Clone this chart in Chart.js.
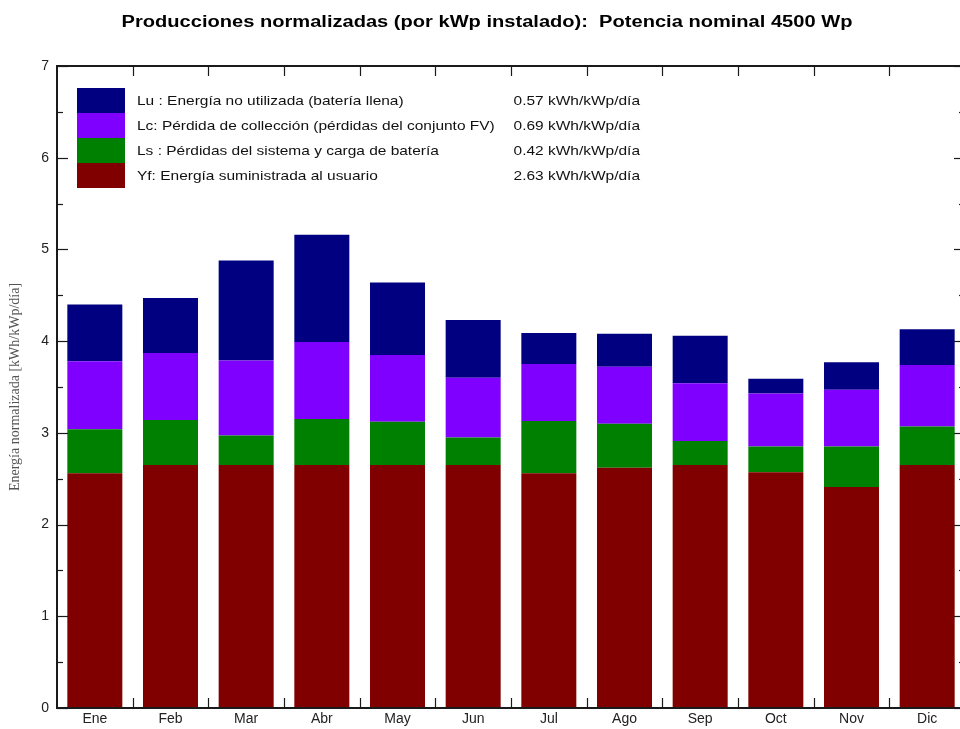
<!DOCTYPE html>
<html><head><meta charset="utf-8">
<script src="https://cdn.jsdelivr.net/npm/chart.js@4.4.0/dist/chart.umd.min.js"></script>
<style>
html,body{margin:0;padding:0;background:#fff;overflow:hidden;}
#wrap{width:960px;height:729px;overflow:hidden;position:relative;}
canvas{position:absolute;left:0;top:0;}
</style>
</head><body><div id="wrap"><canvas id="c" width="972" height="729"></canvas></div>
<script>
const months = ['Ene','Feb','Mar','Abr','May','Jun','Jul','Ago','Sep','Oct','Nov','Dic'];
const yf = [2.56, 2.65, 2.65, 2.65, 2.65, 2.65, 2.56, 2.62, 2.65, 2.57, 2.41, 2.65];
const ls = [0.48, 0.49, 0.32, 0.50, 0.47, 0.30, 0.57, 0.48, 0.26, 0.28, 0.44, 0.42];
const lc = [0.74, 0.73, 0.82, 0.84, 0.73, 0.65, 0.62, 0.62, 0.63, 0.58, 0.62, 0.67];
const lu = [0.62, 0.60, 1.09, 1.17, 0.79, 0.63, 0.34, 0.36, 0.52, 0.16, 0.30, 0.39];
const seriesLabels = [
  'Yf: Energía suministrada al usuario',
  'Ls : Pérdidas del sistema y carga de batería',
  'Lc: Pérdida de collección (pérdidas del conjunto FV)',
  'Lu : Energía no utilizada (batería llena)'
];
const seriesTotals = ['2.63 kWh/kWp/día','0.42 kWh/kWp/día','0.69 kWh/kWp/día','0.57 kWh/kWp/día'];
const colors = ['#800000','#008000','#8000ff','#000080'];
const yTicks = [0,1,2,3,4,5,6,7];
const minorStep = 0.5;
const titleText = 'Producciones normalizadas (por kWp instalado):  Potencia nominal 4500 Wp';
const yTitleText = 'Energía normalizada [kWh/kWp/día]';

const SANS = "'Liberation Sans', Arial, sans-serif";

function stretchedText(ctx, text, x, y, sx, align) {
  ctx.save();
  ctx.translate(x, y);
  ctx.scale(sx, 1);
  ctx.textAlign = align;
  ctx.fillText(text, 0, 0);
  ctx.restore();
}

const framePlugin = {
  id: 'frame',
  afterDatasetsDraw(chart) {
    const {ctx, chartArea: a, scales: {x, y}} = chart;
    ctx.save();
    ctx.strokeStyle = '#1a1a1a';
    const line = (x1,y1,x2,y2) => { ctx.beginPath(); ctx.moveTo(x1,y1); ctx.lineTo(x2,y2); ctx.stroke(); };
    ctx.lineWidth = 1.2;
    const yMax = yTicks[yTicks.length-1];
    for (let v = 0; v <= yMax + 1e-9; v += minorStep) {
      const py = Math.round(y.getPixelForValue(v)) + 0.5;
      const major = Math.abs(v - Math.round(v)) < 1e-6;
      const L = major ? 11 : 6;
      line(a.left, py, a.left + L, py);
      line(a.right, py, a.right - L, py);
    }
    for (let i = 0; i < months.length - 1; i++) {
      const px = Math.round((x.getPixelForValue(i) + x.getPixelForValue(i+1)) / 2) + 0.5;
      line(px, a.top, px, a.top + 10);
      line(px, a.bottom, px, a.bottom - 10);
    }
    ctx.lineWidth = 2;
    ctx.strokeRect(a.left, a.top, a.right - a.left, a.bottom - a.top);

    // title
    ctx.fillStyle = '#000';
    ctx.textBaseline = 'middle';
    ctx.font = "bold 16px " + SANS;
    stretchedText(ctx, titleText, 487, 23, 1.255, 'center');

    // y axis title
    ctx.save();
    ctx.translate(15, (a.top + a.bottom) / 2);
    ctx.rotate(-Math.PI / 2);
    ctx.fillStyle = '#555';
    ctx.font = "14px 'Liberation Serif', serif";
    ctx.textAlign = 'center';
    ctx.fillText(yTitleText, 0, 0);
    ctx.restore();

    // legend
    const bx = 77, bw = 48, rowH = 25, top0 = 88;
    ctx.font = "13px " + SANS;
    for (let r = 0; r < 4; r++) {
      const di = 3 - r;
      const ty = top0 + r * rowH;
      ctx.fillStyle = colors[di];
      ctx.fillRect(bx, ty, bw, rowH);
      ctx.fillStyle = '#111';
      stretchedText(ctx, seriesLabels[di], 137, ty + rowH/2 + 1, 1.19, 'left');
      stretchedText(ctx, seriesTotals[di], 640, ty + rowH/2 + 1, 1.19, 'right');
    }
    ctx.restore();
  }
};

const datasets = [yf, ls, lc, lu].map((d, i) => ({
  label: seriesLabels[i],
  data: d,
  backgroundColor: colors[i],
  borderWidth: 0,
  categoryPercentage: 1,
  barPercentage: 0.727
}));

new Chart(document.getElementById('c'), {
  type: 'bar',
  data: { labels: months, datasets },
  options: {
    responsive: false,
    animation: false,
    devicePixelRatio: 1,
    layout: { padding: { left: 0, right: 7, top: 66, bottom: 0 } },
    plugins: {
      legend: { display: false },
      tooltip: { enabled: false },
      title: { display: false }
    },
    scales: {
      x: {
        stacked: true,
        grid: { display: false, drawTicks: false },
        border: { display: false },
        ticks: { color: '#222', font: { family: SANS, size: 14 }, padding: 3, maxRotation: 0 },
        afterFit: (s) => { s.height = 21; }
      },
      y: {
        stacked: true,
        min: yTicks[0], max: yTicks[yTicks.length-1],
        grid: { display: false, drawTicks: false },
        border: { display: false },
        ticks: { stepSize: 1, color: '#222', font: { family: SANS, size: 14 }, padding: 8 },
        afterFit: (s) => { s.width = 57; }
      }
    }
  },
  plugins: [framePlugin]
});
</script>
</body></html>
